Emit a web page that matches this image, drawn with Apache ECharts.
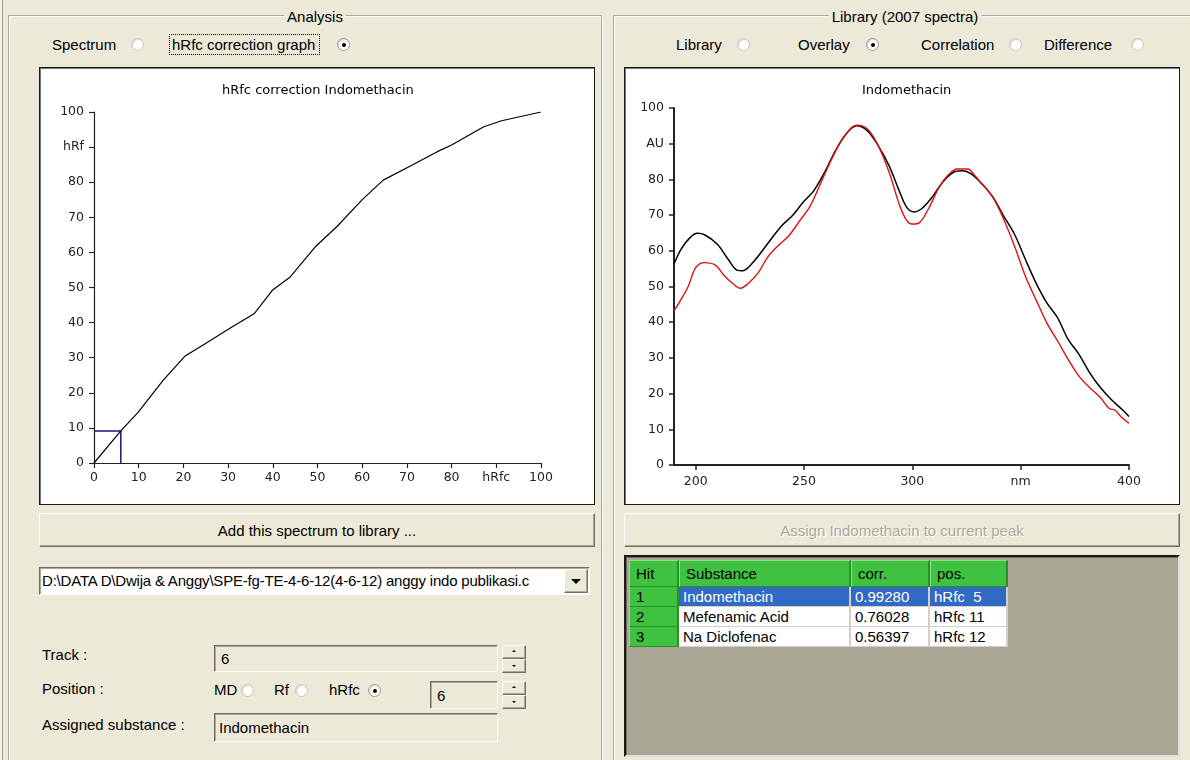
<!DOCTYPE html>
<html>
<head>
<meta charset="utf-8">
<script src="https://cdn.jsdelivr.net/npm/echarts@6/dist/echarts.min.js"></script>
<style>
html,body{margin:0;padding:0;}
body{width:1190px;height:760px;background:#ECE9D8;position:relative;overflow:hidden;font-family:"Liberation Sans",Arial,sans-serif;font-size:15px;color:#000;}
.a{position:absolute;}
.t{position:absolute;line-height:18px;white-space:nowrap;}
.group{position:absolute;border:1px solid #ACA899;box-shadow:1px 1px 0 #fff, inset 1px 1px 0 #fff;}
.legend{position:absolute;line-height:18px;background:#ECE9D8;padding:0 3px;transform:translateX(-50%);white-space:nowrap;}
.radio{position:absolute;width:11px;height:11px;border-radius:50%;background:#fff;border:1px solid #C9C5B5;box-shadow:inset 1px 1px 1px #D8D4C4;}
.radio.on{border-color:#9D9A8A;}
.radio.on::after{content:'';position:absolute;left:3.5px;top:3.5px;width:4px;height:4px;border-radius:50%;background:#000;}
.btn{position:absolute;box-sizing:border-box;background:#ECE9D8;border:1px solid;border-color:#fff #716F64 #716F64 #fff;box-shadow:inset -1px -1px 0 #ACA899;text-align:center;white-space:nowrap;}
.sunk{position:absolute;box-sizing:border-box;background:#ECE9D8;border:1px solid;border-color:#716F64 #fff #fff #716F64;box-shadow:inset 1px 1px 0 #ACA899;white-space:nowrap;}
.box{position:absolute;box-sizing:border-box;background:#fff;border:1px solid #1a1a1a;box-shadow:inset 1px 1px 0 #777;}
.chart{position:absolute;}
.tri-up{position:absolute;width:0;height:0;border-left:2px solid transparent;border-right:2px solid transparent;border-bottom:2px solid #000;}
.tri-dn{position:absolute;width:0;height:0;border-left:2px solid transparent;border-right:2px solid transparent;border-top:2px solid #000;}
table.hits{position:absolute;left:629px;top:560px;border-collapse:separate;border-spacing:0;font-size:15px;table-layout:fixed;}
table.hits td{box-sizing:border-box;padding:0 0 0 4px;height:20px;line-height:19px;white-space:nowrap;overflow:hidden;border-right:2px solid #D4D0C8;border-bottom:1px solid #D4D0C8;background:#fff;}
table.hits tr.head td{height:27px;background:#3FC23F;border-top:1px solid #8AE08A;border-left:1px solid #8AE08A;border-right:2px solid #2A8E2A;border-bottom:1px solid #2A8E2A;padding-left:6px;}
table.hits td.num{background:#3FC23F;border-left:1px solid #8AE08A;border-right:2px solid #2A8E2A;border-bottom:1px solid #2A8E2A;padding-left:6px;}
table.hits tr.sel td{background:#316AC5;color:#fff;}
table.hits tr.sel td.num{background:#3FC23F;color:#000;}
</style>
</head>
<body>
<!-- left window edge -->
<div class="a" style="left:0;top:0;width:2px;height:760px;background:#F4F2E8"></div>
<div class="a" style="left:2px;top:0;width:1px;height:760px;background:#A19E8D"></div>

<!-- group boxes -->
<div class="group" style="left:8px;top:15px;width:592px;height:800px"></div>
<div class="legend" style="left:315px;top:8px">Analysis</div>
<div class="group" style="left:613px;top:15px;width:700px;height:800px"></div>
<div class="legend" style="left:905px;top:8px">Library (2007 spectra)</div>

<!-- analysis radios -->
<div class="t" style="left:52px;top:36px">Spectrum</div>
<div class="radio" style="left:131px;top:38px"></div>
<div class="a" style="left:169px;top:34px;width:151px;height:21px;border:1px dotted #000;box-sizing:border-box"></div>
<div class="t" style="left:172px;top:36px">hRfc correction graph</div>
<div class="radio on" style="left:337px;top:38px"></div>

<!-- library radios -->
<div class="t" style="left:676px;top:36px">Library</div>
<div class="radio" style="left:737px;top:38px"></div>
<div class="t" style="left:798px;top:36px">Overlay</div>
<div class="radio on" style="left:866px;top:38px"></div>
<div class="t" style="left:921px;top:36px">Correlation</div>
<div class="radio" style="left:1009px;top:38px"></div>
<div class="t" style="left:1044px;top:36px">Difference</div>
<div class="radio" style="left:1131px;top:38px"></div>

<!-- chart boxes -->
<div class="box" style="left:39px;top:67px;width:556px;height:438px"></div>
<div id="leftChart" class="chart" style="left:40px;top:68px;width:554px;height:436px"></div>
<div class="box" style="left:624px;top:67px;width:556px;height:438px"></div>
<div id="rightChart" class="chart" style="left:625px;top:68px;width:554px;height:436px"></div>

<!-- buttons -->
<div class="btn" style="left:39px;top:513px;width:556px;height:34px;line-height:33px">Add this spectrum to library ...</div>
<div class="btn" style="left:624px;top:513px;width:556px;height:34px;line-height:33px;color:#ACA899;text-shadow:1px 1px 0 #fff">Assign Indomethacin to current peak</div>

<!-- dropdown -->
<div class="a" style="left:39px;top:567px;width:551px;height:28px;box-sizing:border-box;background:#fff;border:1px solid;border-color:#716F64 #fff #fff #716F64;box-shadow:inset 1px 1px 0 #ACA899"></div>
<div class="t" style="left:42px;top:572px;letter-spacing:-0.2px">D:\DATA D\Dwija &amp; Anggy\SPE-fg-TE-4-6-12(4-6-12) anggy indo publikasi.c</div>
<div class="btn" style="left:564px;top:569px;width:24px;height:24px"></div>
<div class="a" style="left:571px;top:579px;width:0;height:0;border-left:5px solid transparent;border-right:5px solid transparent;border-top:5px solid #000"></div>

<!-- track / position / assigned -->
<div class="t" style="left:42px;top:646px">Track :</div>
<div class="sunk" style="left:214px;top:645px;width:284px;height:27px"></div>
<div class="t" style="left:221px;top:650px">6</div>
<div class="btn" style="left:502px;top:645px;width:24px;height:14px"></div>
<div class="btn" style="left:502px;top:659px;width:24px;height:14px"></div>
<div class="tri-up" style="left:512px;top:650px"></div>
<div class="tri-dn" style="left:512px;top:665px"></div>

<div class="t" style="left:42px;top:680px">Position :</div>
<div class="t" style="left:214px;top:681px">MD</div>
<div class="radio" style="left:241px;top:684px"></div>
<div class="t" style="left:274px;top:681px">Rf</div>
<div class="radio" style="left:295px;top:684px"></div>
<div class="t" style="left:329px;top:681px">hRfc</div>
<div class="radio on" style="left:368px;top:684px"></div>
<div class="sunk" style="left:430px;top:681px;width:68px;height:28px"></div>
<div class="t" style="left:437px;top:687px">6</div>
<div class="btn" style="left:502px;top:681px;width:24px;height:14px"></div>
<div class="btn" style="left:502px;top:695px;width:24px;height:14px"></div>
<div class="tri-up" style="left:512px;top:686px"></div>
<div class="tri-dn" style="left:512px;top:701px"></div>

<div class="t" style="left:42px;top:716px">Assigned substance :</div>
<div class="sunk" style="left:214px;top:713px;width:284px;height:29px"></div>
<div class="t" style="left:219px;top:719px">Indomethacin</div>

<!-- hit list -->
<div class="a" style="left:624px;top:555px;width:556px;height:202px;box-sizing:border-box;border:2px solid #1a1a1a;border-right-color:#ddd;border-bottom-color:#ddd;background:#A9A696;box-shadow:inset 1px 1px 0 #6f6d62"></div>
<table class="hits" id="hits"></table>

<script>
// ---------- data: hRfc correction graph ----------
const hrfcValues = [0, 6.1, 9.9, 15.5, 20.3, 25.5, 30.3, 35.9, 39.9, 43.9, 49.5, 54.3, 59.9, 64.7, 71.2, 76.8, 80.0, 87.2, 91.2, 100];
const hrfValues  = [0, 9.3, 14.5, 23.6, 30.4, 34.5, 38.3, 42.6, 49.2, 53.0, 61.6, 67.3, 74.9, 80.6, 84.9, 88.7, 90.6, 95.8, 97.5, 100];
const currentHrfc = 6.0;
const currentHrf = 9.1;
const leftXTickLabels = ['0','10','20','30','40','50','60','70','80','hRfc','100'];
const leftYTickLabels = ['0','10','20','30','40','50','60','70','80','hRf','100'];
const leftTitle = 'hRfc correction Indomethacin';

// ---------- data: overlay spectra ----------
const nmSample = [190,193.3,197.4,200.8,204.1,209.9,214.9,219,221.5,226.4,233.1,239.7,244.6,249.6,254.5,259.5,264.5,269.4,274.4,279.3,284.3,289.3,294.2,297.5,300.8,304.1,309.1,314,319,323.1,327.3,332.2,337.2,342.1,347.1,352.1,357,362,367,371.9,376.9,381.8,386.8,391.7,396.7,400];
const auSample = [56.3,60.5,63.7,64.9,64.5,61.9,57.7,54.6,54.4,56.7,61.9,67.0,69.8,73.6,76.8,82.0,88.0,92.7,95.0,93.6,89.4,83.8,76.4,72.1,70.9,71.7,75.0,79.2,82.0,82.4,81.5,78.7,75.0,69.8,64.7,57.7,51.1,45.5,41.3,35.2,31.0,25.9,21.7,18.4,15.6,13.6];
const nmLibrary = [190,193.3,196.7,200,204.1,209.1,213.2,217.4,220.7,224,228.9,233.1,238,243,248,252.9,257.9,262.8,267.8,274.4,279.3,284.3,289.3,294.2,297.5,300,303.3,307.4,312.4,316.5,320.7,325.6,328.9,332.2,337.2,342.1,347.1,352.1,357,362,367,371.9,376.9,381.8,386.8,390.9,393.4,396.7,400];
const auLibrary = [43.2,46.4,50.2,55.3,56.7,56.0,53.0,50.7,49.5,50.7,53.9,58.1,61.4,64.2,68.4,72.6,79.2,85.7,91.3,95.2,94.1,89.4,82.0,72.6,68.4,67.5,67.9,71.7,77.8,81.2,82.9,82.9,81.0,78.7,75.0,68.9,61.4,53.0,46.4,39.9,34.8,29.6,24.9,21.7,18.9,15.8,15.4,13.3,11.7];
const rightXTicks = [200,250,300,350,400];
const rightXTickLabels = ['200','250','300','nm','400'];
const rightYTickLabels = ['0','10','20','30','40','50','60','70','80','AU','100'];
const rightTitle = 'Indomethacin';

// ---------- data: hit list ----------
const hitNumbers = ['1','2','3'];
const hitSubstances = ['Indomethacin','Mefenamic Acid','Na Diclofenac'];
const hitCorr = ['0.99280','0.76028','0.56397'];
const hitPos = ['hRfc  5','hRfc 11','hRfc 12'];
const hitHeaders = ['Hit','Substance','corr.','pos.'];

const FONT = 'DejaVu Sans';
const LABEL = {color:'#222', fontFamily:FONT, fontSize:12.5};

function axisCommon(extra){
  return Object.assign({
    axisLine:{show:true,onZero:false,lineStyle:{color:'#222',width:1.2}},
    axisTick:{show:true,length:5,lineStyle:{color:'#222',width:1.2}},
    splitLine:{show:false}
  }, extra);
}

// left chart
const left = echarts.init(document.getElementById('leftChart'), null, {renderer:'canvas'});
left.setOption({
  animation:false,
  backgroundColor:'transparent',
  title:{text:leftTitle,left:177,top:11,textStyle:{fontFamily:FONT,fontSize:13,fontWeight:'normal',color:'#000'}},
  grid:{left:54,top:44,width:447,height:351,containLabel:false},
  xAxis:axisCommon({type:'value',min:0,max:100,interval:10,
    axisLabel:Object.assign({margin:8,formatter:v=>leftXTickLabels[Math.round(v/10)]},LABEL)}),
  yAxis:axisCommon({type:'value',min:0,max:100,interval:10,
    axisLabel:Object.assign({margin:10,formatter:v=>leftYTickLabels[Math.round(v/10)]},LABEL)}),
  series:[
    {type:'line',data:[[0,currentHrf],[currentHrfc,currentHrf],[currentHrfc,0]],symbol:'none',
     lineStyle:{color:'#14147a',width:1.5},z:1},
    {type:'line',data:hrfcValues.map((x,i)=>[x,hrfValues[i]]),symbol:'none',
     lineStyle:{color:'#000',width:1.2},z:2}
  ]
});

// right chart
const right = echarts.init(document.getElementById('rightChart'), null, {renderer:'canvas'});
right.setOption({
  animation:false,
  backgroundColor:'transparent',
  title:{text:rightTitle,left:232,top:11,textStyle:{fontFamily:FONT,fontSize:13,fontWeight:'normal',color:'#000'}},
  grid:{left:49,top:40,width:455,height:357,containLabel:false},
  xAxis:axisCommon({type:'value',min:190,max:400,
    axisLine:{show:true,onZero:false,lineStyle:{color:'#222',width:2}},
    axisTick:{show:true,length:5,customValues:rightXTicks,lineStyle:{color:'#222',width:1.5}},
    axisLabel:Object.assign({margin:10,customValues:rightXTicks,formatter:v=>rightXTickLabels[rightXTicks.indexOf(v)]},LABEL)}),
  yAxis:axisCommon({type:'value',min:0,max:100,interval:10,
    axisLine:{show:true,onZero:false,lineStyle:{color:'#222',width:2}},
    axisTick:{show:true,length:5,lineStyle:{color:'#222',width:1.5}},
    axisLabel:Object.assign({margin:10,formatter:v=>rightYTickLabels[Math.round(v/10)]},LABEL)}),
  series:[
    {type:'line',data:nmSample.map((x,i)=>[x,auSample[i]]),symbol:'none',smooth:0.35,
     lineStyle:{color:'#000',width:1.5},z:1},
    {type:'line',data:nmLibrary.map((x,i)=>[x,auLibrary[i]]),symbol:'none',smooth:0.35,
     lineStyle:{color:'#e01010',width:1.4},z:2}
  ]
});

// hit table
const tbl = document.getElementById('hits');
const widths = [50,172,79,78];
let html = '<colgroup>' + widths.map(w=>'<col style="width:'+w+'px">').join('') + '</colgroup>';
html += '<tr class="head">' + hitHeaders.map((h,i)=>'<td style="width:'+widths[i]+'px">'+h+'</td>').join('') + '</tr>';
hitNumbers.forEach((n,i)=>{
  html += '<tr'+(i===0?' class="sel"':'')+'><td class="num">'+n+'</td><td>'+hitSubstances[i]+'</td><td>'+hitCorr[i]+'</td><td style="white-space:pre">'+hitPos[i]+'</td></tr>';
});
tbl.innerHTML = html;
tbl.style.width = widths.reduce((a,b)=>a+b,0) + 'px';
</script>
</body>
</html>
